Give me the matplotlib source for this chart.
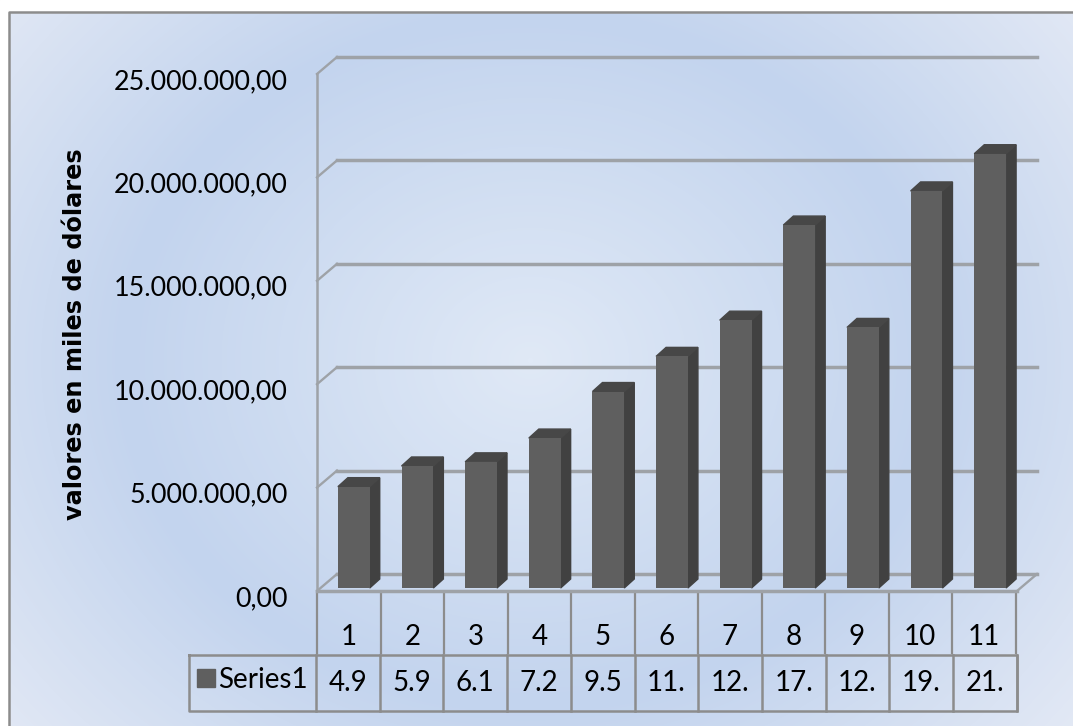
import matplotlib
matplotlib.use("Agg")
import matplotlib.pyplot as plt
import numpy as np
from matplotlib.colors import LinearSegmentedColormap
from matplotlib.patches import Polygon
from matplotlib.transforms import Affine2D

W, H = 1073, 726

categories = ["1", "2", "3", "4", "5", "6", "7", "8", "9", "10", "11"]
values = [4900000, 5900000, 6100000, 7250000, 9500000, 11200000,
          12950000, 17550000, 12600000, 19200000, 21000000]
table_labels = ["4.9", "5.9", "6.1", "7.2", "9.5", "11.", "12.", "17.", "12.", "19.", "21."]
y_ticks = [0, 5000000, 10000000, 15000000, 20000000, 25000000]
y_tick_labels = ["0,00", "5.000.000,00", "10.000.000,00", "15.000.000,00",
                 "20.000.000,00", "25.000.000,00"]
series_name = "Series1"
y_title = "valores en miles de dólares"

GRID = "#9ea2a7"
LINE = "#8c8c8c"
FRONT = "#5f5f5f"
SIDE = "#414141"
TOP = "#474747"
DX, DY = 20, 17      # depth of the box
BDX, BDY = 10, 9     # depth of a bar

plt.rcParams["font.family"] = ["Lato", "DejaVu Sans"]

fig = plt.figure(figsize=(W / 100, H / 100), dpi=100)

# full figure layer in pixels, for background and table
bg = fig.add_axes([0, 0, 1, 1])
bg.set_xlim(0, W)
bg.set_ylim(H, 0)
bg.axis("off")

xx, yy = np.meshgrid(np.arange(W), np.arange(H))
r = np.hypot((xx - 530) / 400, (yy - 360) / 340)
cmap = LinearSegmentedColormap.from_list(
    "bg", [(0, "#e0e9f6"), (0.58, "#c3d4ee"), (1, "#e3e9f5")])
bg.imshow(r / 1.75, cmap=cmap, vmin=0, vmax=1, extent=(0, W, H, 0), aspect="auto", zorder=0)
bg.add_patch(plt.Rectangle((0, 0), W, 12, color="white", zorder=1))
bg.add_patch(plt.Rectangle((0, 0), 9, H, color="white", zorder=1))
bg.plot([9, 9, W], [H, 12, 12], color=LINE, lw=1.8, zorder=2)

# front plane of the chart box
ax = fig.add_axes([317 / W, 1 - 591 / H, 700 / W, 517 / H])
ax.set_xlim(0, len(categories))
ax.set_ylim(0, 25000000)
ax.patch.set_alpha(0)
for s in ax.spines.values():
    s.set_visible(False)
ax.set_xticks([])
ax.set_yticks(y_ticks)
ax.set_yticklabels(y_tick_labels, fontsize=19.4, color="black")
ax.tick_params(axis="y", length=0, pad=21)
for lab in ax.get_yticklabels():
    lab.set_transform(lab.get_transform() + Affine2D().translate(0, -5))

back_tr = ax.transData + Affine2D().translate(DX, DY)
n = len(categories)
px = n / 700
py = 25000000 / 517
for t in y_ticks:
    ax.plot([0, n], [t, t], color=GRID, lw=2.5, transform=back_tr, clip_on=False, zorder=1)
    ax.plot([0, DX * px], [t, t + DY * py], color=GRID, lw=1.7, clip_on=False, zorder=1)
ax.plot([0, 0], [0, 25000000], color=GRID, lw=1.8, clip_on=False, zorder=1)
ax.plot([0, n], [0, 0], color=GRID, lw=2.5, clip_on=False, zorder=1)
ax.plot([n, n + DX * px], [0, DY * py], color=GRID, lw=1.7, clip_on=False, zorder=1)

# bars with fake depth
bar_tr = ax.transData + Affine2D().translate(5, 3)
bw = 0.5
pos = np.arange(n) + 0.5
ax.bar(pos, values, width=bw, color=FRONT, transform=bar_tr, zorder=4, clip_on=False)
for x, v in zip(pos, values):
    l, r_ = x - bw / 2, x + bw / 2
    ax.add_patch(Polygon([(r_, 0), (r_ + BDX * px, BDY * py), (r_ + BDX * px, v + BDY * py), (r_, v)],
                         color=SIDE, transform=bar_tr, zorder=3, clip_on=False))
    ax.add_patch(Polygon([(l, v), (l + BDX * px, v + BDY * py), (r_ + BDX * px, v + BDY * py), (r_, v)],
                         color=TOP, transform=bar_tr, zorder=3, clip_on=False))

ax.set_ylabel(y_title, fontsize=17.3, fontweight="bold", family="DejaVu Sans", labelpad=0)
ax.yaxis.set_label_coords((87 - 317) / 700, (591 - 334) / 517)

# data table
upper = 317 + np.arange(n + 1) * 63.5
lower = 316 + np.arange(n + 1) * 63.7
for x in upper:
    bg.plot([x, x], [593, 653], color=LINE, lw=1.6, zorder=2)
for x in lower:
    bg.plot([x, x], [655, 711], color=LINE, lw=1.8, zorder=2)
bg.plot([189, 189, 1017, 1017, 189], [655, 711, 711, 655, 655], color=LINE, lw=1.8, zorder=2)
for i in range(n):
    bg.text((upper[i] + upper[i + 1]) / 2, 637, categories[i], ha="center", va="center",
            fontsize=20, zorder=3)
    bg.text((lower[i] + lower[i + 1]) / 2, 683, table_labels[i], ha="center", va="center",
            fontsize=20, zorder=3)
bg.add_patch(plt.Rectangle((197, 669), 18, 18, color=FRONT, zorder=3))
bg.text(218, 680, series_name, ha="left", va="center", fontsize=20, zorder=3)

fig.savefig("out.png", dpi=100)
